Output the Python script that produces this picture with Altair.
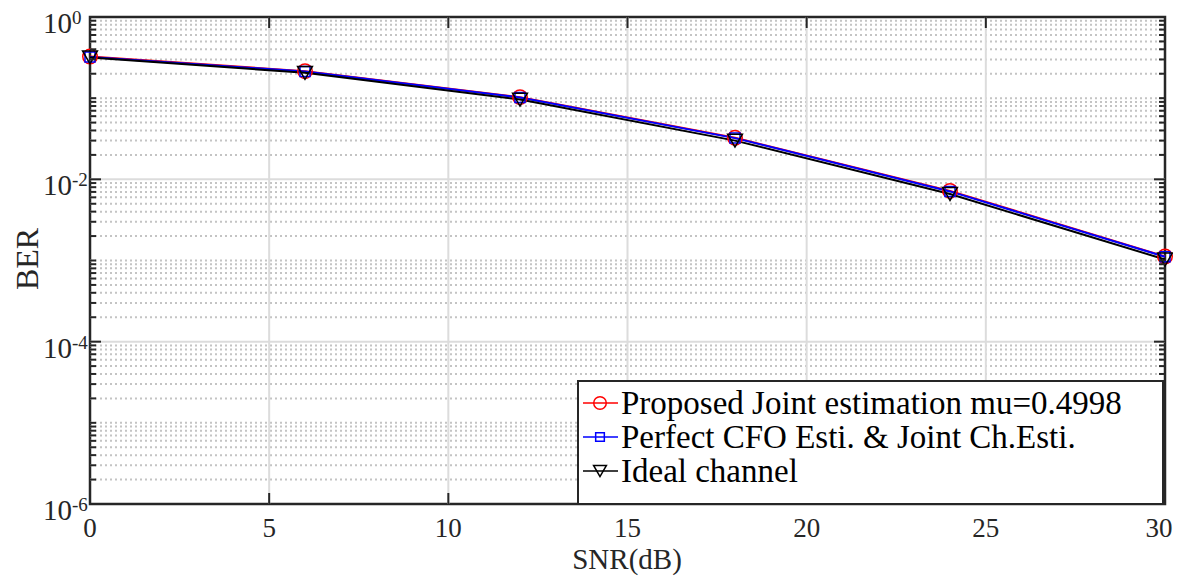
import altair as alt
import pandas as pd

# ---- data ----
snr = [0, 6, 12, 18, 24, 30]
ber_proposed = [0.325, 0.215, 0.103, 0.0325, 0.0072, 0.00112]
ber_perfect = [0.322, 0.213, 0.102, 0.0322, 0.0071, 0.00111]
ber_ideal = [0.318, 0.205, 0.096, 0.0300, 0.0066, 0.00103]

series_names = ["Proposed Joint estimation mu=0.4998",
                "Perfect CFO Esti. & Joint Ch.Esti.",
                "Ideal channel"]
series_colors = ["#ff0000", "#0000ff", "#000000"]
series_shapes = ["circle", "square", "triangle-down"]
series_sizes = [210, 100, 220]

x_ticks = [0, 5, 10, 15, 20, 25, 30]
y_major = [1e-6, 1e-4, 1e-2, 1.0]
y_major_exp = ["-6", "-4", "-2", "0"]
y_minor = [k * 10.0 ** n for n in range(-6, 0) for k in range(2, 10)] + [1e-5, 1e-3, 1e-1]

W, H = 1075, 487
FONT = "Liberation Serif"
AX = "#262626"

xs = alt.Scale(domain=[0, 30], nice=False, zero=False)
ys = alt.Scale(type="log", domain=[1e-6, 1], nice=False)

rows = []
for name, vals in zip(series_names, [ber_proposed, ber_perfect, ber_ideal]):
    for s, b in zip(snr, vals):
        rows.append({"series": name, "snr": s, "ber": b})
df = pd.DataFrame(rows)

minor_df = pd.DataFrame({"v": y_minor})
ymaj_df = pd.DataFrame({"v": y_major, "e": y_major_exp})
ymaj_inner = pd.DataFrame({"v": [1e-4, 1e-2]})
xt_df = pd.DataFrame({"v": x_ticks[:-1], "t": [str(t) for t in x_ticks[:-1]]})
xt_last = pd.DataFrame({"v": x_ticks[-1:], "t": [str(t) for t in x_ticks[-1:]]})
xgrid_df = pd.DataFrame({"v": x_ticks[1:-1]})

X = lambda f="v": alt.X(f"{f}:Q", scale=xs, axis=None)
Y = lambda f="v": alt.Y(f"{f}:Q", scale=ys, axis=None)

layers = []
# minor dotted grid
layers.append(alt.Chart(minor_df).mark_rule(color="#c4c4c4", strokeWidth=2, strokeDash=[2, 3]).encode(
    y=Y(), x=alt.value(0), x2=alt.value(W)))
# major grid
layers.append(alt.Chart(ymaj_inner).mark_rule(color="#dcdcdc", strokeWidth=2).encode(
    y=Y(), x=alt.value(0), x2=alt.value(W)))
layers.append(alt.Chart(xgrid_df).mark_rule(color="#dcdcdc", strokeWidth=2).encode(
    x=X(), y=alt.value(0), y2=alt.value(H)))

# series lines + markers
for name, col in zip(series_names, series_colors):
    sub = df[df.series == name]
    layers.append(alt.Chart(sub).mark_line(color=col, strokeWidth=2).encode(
        x=alt.X("snr:Q", scale=xs, axis=None), y=alt.Y("ber:Q", scale=ys, axis=None)))
for name, col, shp, sz in zip(series_names, series_colors, series_shapes, series_sizes):
    sub = df[df.series == name]
    layers.append(alt.Chart(sub).mark_point(color=col, shape=shp, size=sz, filled=False, strokeWidth=1.5, opacity=1).encode(
        x=alt.X("snr:Q", scale=xs, axis=None), y=alt.Y("ber:Q", scale=ys, axis=None)))

# inward ticks
layers.append(alt.Chart(minor_df).mark_rule(color=AX, strokeWidth=2).encode(y=Y(), x=alt.value(0), x2=alt.value(6)))
layers.append(alt.Chart(minor_df).mark_rule(color=AX, strokeWidth=2).encode(y=Y(), x=alt.value(W - 6), x2=alt.value(W)))
layers.append(alt.Chart(ymaj_inner).mark_rule(color=AX, strokeWidth=2).encode(y=Y(), x=alt.value(0), x2=alt.value(11)))
layers.append(alt.Chart(ymaj_inner).mark_rule(color=AX, strokeWidth=2).encode(y=Y(), x=alt.value(W - 11), x2=alt.value(W)))
layers.append(alt.Chart(xgrid_df).mark_rule(color=AX, strokeWidth=2).encode(x=X(), y=alt.value(0), y2=alt.value(11)))
layers.append(alt.Chart(xgrid_df).mark_rule(color=AX, strokeWidth=2).encode(x=X(), y=alt.value(H - 11), y2=alt.value(H)))

# tick labels
layers.append(alt.Chart(xt_df).mark_text(font=FONT, fontSize=27, color=AX, baseline="middle", align="center").encode(
    x=X(), y=alt.value(H + 25), text="t:N"))
layers.append(alt.Chart(xt_last).mark_text(font=FONT, fontSize=27, color=AX, baseline="middle", align="center", dx=-6).encode(
    x=X(), y=alt.value(H + 25), text="t:N"))
layers.append(alt.Chart(ymaj_df).mark_text(font=FONT, fontSize=29, color=AX, baseline="middle", align="right", dy=7).encode(
    y=Y(), x=alt.value(-18), text=alt.value("10")))
layers.append(alt.Chart(ymaj_df).mark_text(font=FONT, fontSize=19, color=AX, baseline="middle", align="left", dy=1).encode(
    y=Y(), x=alt.value(-18), text="e:N"))

# axis titles
layers.append(alt.Chart(pd.DataFrame({"t": ["SNR(dB)"]})).mark_text(font=FONT, fontSize=29, color=AX, baseline="middle", align="center").encode(
    x=alt.value(537), y=alt.value(543), text="t:N"))
layers.append(alt.Chart(pd.DataFrame({"t": ["BER"]})).mark_text(font=FONT, fontSize=32, color=AX, baseline="middle", align="center", angle=270).encode(
    x=alt.value(-62), y=alt.value(242), text="t:N"))

# legend
LX0, LX1, LY0, LY1 = 488, 1073, 364, H
layers.append(alt.Chart(pd.DataFrame({"a": [0]})).mark_rect(fill="white", stroke=AX, strokeWidth=2).encode(
    x=alt.value(LX0), x2=alt.value(LX1), y=alt.value(LY0), y2=alt.value(LY1)))
row_y = [386, 420, 454]
for name, col, shp, sz, ry in zip(series_names, series_colors, series_shapes, series_sizes, row_y):
    d = pd.DataFrame({"t": [name]})
    layers.append(alt.Chart(d).mark_rule(color=col, strokeWidth=1.5).encode(
        x=alt.value(493), x2=alt.value(528), y=alt.value(ry)))
    layers.append(alt.Chart(d).mark_point(color=col, shape=shp, size=sz * 0.75, filled=False, strokeWidth=1.5, opacity=1).encode(
        x=alt.value(510), y=alt.value(ry)))
    layers.append(alt.Chart(d).mark_text(font=FONT, fontSize=33, color="#000000", baseline="middle", align="left").encode(
        x=alt.value(531), y=alt.value(ry + 1), text="t:N"))

chart = alt.layer(*layers).properties(
    width=W, height=H,
    autosize=alt.AutoSizeParams(type="none"),
    padding={"left": 82, "top": 9, "right": 8, "bottom": 72},
    background="white",
).configure_view(stroke=AX, strokeWidth=2.5)

chart.save("out.html", embed_options={"renderer": "svg", "actions": False})
